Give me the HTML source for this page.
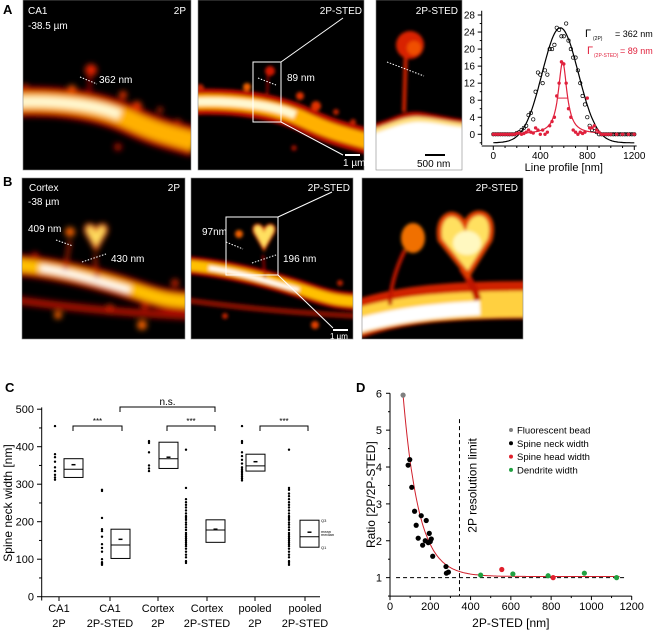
<!DOCTYPE html>
<html><head><meta charset="utf-8"><style>
body{margin:0;background:#fff;}
svg{display:block;font-family:"Liberation Sans",sans-serif;}
</style></head><body>
<svg id="fig" width="656" height="631" viewBox="0 0 656 631" xmlns="http://www.w3.org/2000/svg">
<defs>
<filter id="b1" x="-50%" y="-50%" width="200%" height="200%"><feGaussianBlur stdDeviation="1.5"/></filter>
<filter id="b2" x="-50%" y="-50%" width="200%" height="200%"><feGaussianBlur stdDeviation="3"/></filter>
<filter id="b3" x="-50%" y="-50%" width="200%" height="200%"><feGaussianBlur stdDeviation="5"/></filter>
<clipPath id="cA1"><rect x="23" y="0" width="168" height="170"/></clipPath>
<clipPath id="cA2"><rect x="198" y="0" width="166" height="170"/></clipPath>
<clipPath id="cA3"><rect x="376" y="0" width="86" height="170"/></clipPath>
<clipPath id="cB1"><rect x="22" y="178" width="163" height="161"/></clipPath>
<clipPath id="cB2"><rect x="191" y="178" width="162" height="161"/></clipPath>
<clipPath id="cB3"><rect x="362" y="178" width="161" height="161"/></clipPath>
</defs>
<g font-weight="bold" font-size="13" fill="#000">
<text x="3" y="14">A</text>
<text x="3" y="186">B</text>
<text x="5" y="392">C</text>
<text x="356" y="392">D</text>
</g>

<!-- A1 -->
<g clip-path="url(#cA1)">
<rect x="23" y="0" width="168" height="170" fill="#000"/>
<g filter="url(#b2)">
<path d="M15,102 C60,100 100,106 130,120 S175,136 195,142" stroke="#c01000" stroke-width="30" fill="none"/>
<path d="M15,102 C60,100 100,106 130,120 S175,136 195,142" stroke="#ffb000" stroke-width="18" fill="none"/>
<path d="M15,102 C60,100 100,106 120,115" stroke="#fff8d0" stroke-width="10" fill="none"/>
<circle cx="91" cy="70" r="6" fill="#e02000"/><path d="M90,75 L89,98" stroke="#b01000" stroke-width="3"/>
<circle cx="72" cy="89" r="4" fill="#f05000"/><circle cx="123" cy="95" r="4" fill="#e03000"/><circle cx="137" cy="106" r="5" fill="#e03000"/>
<circle cx="160" cy="110" r="3" fill="#c02000"/><circle cx="178" cy="122" r="3" fill="#c02000"/><circle cx="118" cy="147" r="4" fill="#a01000"/><circle cx="25" cy="88" r="4" fill="#c02000"/>
</g></g>
<rect x="23" y="0" width="168" height="170" fill="none" stroke="#888" stroke-width="0.6"/>
<g fill="#fff" font-size="10"><text x="28" y="14">CA1</text><text x="28" y="29">-38.5 µm</text><text x="186" y="14" text-anchor="end">2P</text><text x="99" y="83">362 nm</text></g>
<line x1="80" y1="77" x2="97" y2="84" stroke="#fff" stroke-dasharray="1.5,1.5"/>

<!-- A2 -->
<g clip-path="url(#cA2)">
<rect x="198" y="0" width="166" height="170" fill="#000"/>
<g filter="url(#b1)">
<path d="M190,102 C235,100 275,106 305,120 S350,136 370,142" stroke="#c01000" stroke-width="26" fill="none"/>
<path d="M190,102 C235,100 275,106 305,120 S350,136 370,142" stroke="#ffb000" stroke-width="15" fill="none"/>
<path d="M190,102 C235,100 275,106 295,115" stroke="#fff8d0" stroke-width="8" fill="none"/>
<circle cx="270" cy="71" r="5" fill="#d01800"/><path d="M268,75 L267,98" stroke="#a01000" stroke-width="2"/>
<circle cx="247" cy="87" r="4" fill="#f06000"/><circle cx="300" cy="96" r="4" fill="#e03000"/><circle cx="316" cy="106" r="5" fill="#e03000"/>
<circle cx="336" cy="112" r="3" fill="#c02000"/><circle cx="353" cy="122" r="3" fill="#c02000"/><circle cx="294" cy="148" r="3" fill="#901000"/><circle cx="200" cy="88" r="4" fill="#c02000"/>
</g></g>
<rect x="198" y="0" width="166" height="170" fill="none" stroke="#888" stroke-width="0.6"/>
<g stroke="#fff" fill="none"><rect x="253" y="62" width="28" height="60"/><line x1="281" y1="62" x2="343" y2="18"/><line x1="281" y1="122" x2="343" y2="155"/><line x1="258" y1="78" x2="276" y2="85" stroke-dasharray="1.5,1.5"/><line x1="345" y1="155" x2="360" y2="155" stroke-width="2"/></g>
<g fill="#fff" font-size="10"><text x="362" y="14" text-anchor="end">2P-STED</text><text x="287" y="81">89 nm</text><text x="343" y="166">1 µm</text></g>

<!-- A3 -->
<g clip-path="url(#cA3)">
<rect x="376" y="0" width="86" height="170" fill="#000"/>
<g filter="url(#b1)">
<path d="M370,125 C395,118 405,110 420,112 S450,118 470,120 L470,180 L370,180 Z" fill="#c01000"/>
<path d="M370,130 C395,122 405,116 420,117 S450,122 470,124 L470,180 L370,180 Z" fill="#ffe080"/>
<path d="M370,135 C395,127 405,122 420,122 S450,127 470,128 L470,180 L370,180 Z" fill="#fff"/>
<path d="M406,48 L404,112" stroke="#d02000" stroke-width="4"/>
<circle cx="410" cy="45" r="14" fill="#d82400"/><circle cx="414" cy="48" r="7" fill="#f05000"/>
</g></g>
<rect x="376" y="0" width="86" height="170" fill="none" stroke="#888" stroke-width="0.6"/>
<g stroke="#fff"><line x1="387" y1="62" x2="424" y2="76" stroke-dasharray="1.5,1.5"/><line x1="425" y1="155" x2="445" y2="155" stroke="#000" stroke-width="2"/></g>
<g font-size="10"><text x="458" y="14" text-anchor="end" fill="#fff">2P-STED</text><text x="417" y="167" fill="#000">500 nm</text></g>

<!-- B1 -->
<g clip-path="url(#cB1)">
<rect x="22" y="178" width="163" height="161" fill="#000"/>
<g filter="url(#b2)">
<path d="M15,265 C60,268 110,282 140,292 S175,300 190,302" stroke="#c01000" stroke-width="22" fill="none"/>
<path d="M15,265 C60,268 110,282 140,292 S175,300 190,302" stroke="#ffc000" stroke-width="12" fill="none"/>
<path d="M40,268 C70,272 100,282 130,290" stroke="#fff" stroke-width="6" fill="none"/>
<path d="M15,300 C60,306 110,312 190,316" stroke="#a01000" stroke-width="8" fill="none"/>
<path d="M95,255 L97,278" stroke="#c02000" stroke-width="3"/><path d="M70,240 L65,270" stroke="#c02000" stroke-width="3"/>
<path d="M88,236 C80,225 92,220 96,230 C100,220 112,225 104,236 L96,250 Z" fill="#ffe060" stroke="#e04000" stroke-width="3"/>
<circle cx="70" cy="232" r="5" fill="#f06000"/><circle cx="35" cy="256" r="4" fill="#b01000"/>
<circle cx="58" cy="315" r="4" fill="#f06000"/><circle cx="142" cy="325" r="5" fill="#f06000"/><circle cx="175" cy="283" r="4" fill="#c02000"/><circle cx="110" cy="308" r="4" fill="#c02000"/><circle cx="145" cy="305" r="4" fill="#c02000"/>
</g></g>
<rect x="22" y="178" width="163" height="161" fill="none" stroke="#888" stroke-width="0.6"/>
<g fill="#fff" font-size="10"><text x="29" y="191">Cortex</text><text x="28" y="205">-38 µm</text><text x="180" y="191" text-anchor="end">2P</text><text x="28" y="232">409 nm</text><text x="111" y="262">430 nm</text></g>
<g stroke="#fff" stroke-dasharray="1.5,1.5"><line x1="56" y1="240" x2="73" y2="246"/><line x1="82" y1="262" x2="106" y2="254"/></g>

<!-- B2 -->
<g clip-path="url(#cB2)">
<rect x="191" y="178" width="162" height="161" fill="#000"/>
<g filter="url(#b1)">
<path d="M184,265 C229,268 279,282 309,292 S344,300 359,302" stroke="#c01000" stroke-width="18" fill="none"/>
<path d="M184,265 C229,268 279,282 309,292 S344,300 359,302" stroke="#ffc000" stroke-width="10" fill="none"/>
<path d="M209,268 C239,272 269,282 299,290" stroke="#fff" stroke-width="4" fill="none"/>
<path d="M184,300 C229,306 279,312 359,316" stroke="#801000" stroke-width="6" fill="none"/>
<path d="M263,255 L265,278" stroke="#b01000" stroke-width="2"/>
<path d="M256,236 C248,225 260,220 264,230 C268,220 280,225 272,236 L264,250 Z" fill="#ffe060" stroke="#e04000" stroke-width="2"/>
<circle cx="239" cy="234" r="4" fill="#f06000"/><circle cx="315" cy="325" r="4" fill="#e04000"/><circle cx="340" cy="283" r="3" fill="#c02000"/><circle cx="225" cy="316" r="3" fill="#c02000"/>
</g></g>
<rect x="191" y="178" width="162" height="161" fill="none" stroke="#888" stroke-width="0.6"/>
<g stroke="#fff" fill="none"><rect x="226" y="217" width="52" height="58"/><line x1="278" y1="217" x2="332" y2="192"/><line x1="278" y1="275" x2="333" y2="328"/><line x1="226" y1="242" x2="243" y2="249" stroke-dasharray="1.5,1.5"/><line x1="252" y1="263" x2="276" y2="255" stroke-dasharray="1.5,1.5"/><line x1="333" y1="330" x2="348" y2="330" stroke-width="2"/></g>
<g fill="#fff" font-size="10"><text x="350" y="191" text-anchor="end">2P-STED</text><text x="202" y="235">97nm</text><text x="283" y="262">196 nm</text><text x="330" y="339" font-size="8">1 µm</text></g>

<!-- B3 -->
<g clip-path="url(#cB3)">
<rect x="362" y="178" width="161" height="161" fill="#000"/>
<g filter="url(#b1)">
<path d="M355,320 C400,304 450,300 530,300" stroke="#d02000" stroke-width="38" fill="none"/>
<path d="M355,322 C400,308 450,304 530,304" stroke="#ffd040" stroke-width="26" fill="none"/>
<path d="M355,326 C400,314 440,310 480,308" stroke="#fff" stroke-width="14" fill="none"/>
<path d="M405,250 C395,270 390,290 390,305" stroke="#c01800" stroke-width="4" fill="none"/>
<path d="M462,268 C470,280 475,290 478,300" stroke="#c01800" stroke-width="7" fill="none"/>
<ellipse cx="413" cy="238" rx="12" ry="15" fill="#f07000"/>
<path d="M440,240 C435,215 455,205 465,225 C472,205 498,210 490,240 L468,275 Z" fill="#ffe060" stroke="#e04000" stroke-width="5"/>
<ellipse cx="467" cy="243" rx="14" ry="12" fill="#fff8c0"/>
</g></g>
<rect x="362" y="178" width="161" height="161" fill="none" stroke="#888" stroke-width="0.6"/>
<line x1="487" y1="328" x2="507" y2="328" stroke="#000" stroke-width="2"/>
<g font-size="9"><text x="518" y="191" text-anchor="end" fill="#fff" font-size="10">2P-STED</text><text x="483" y="337" fill="#000">500 nm</text></g>

<g id="chartA"></g>
<g id="chartC"></g>
<g id="chartD"></g>
</svg>
<script>
// ---------- Chart A data ----------
const aBlackX=[0,20,40,60,80,100,120,140,160,180,200,220,240,260,280,300,320,340,360,380,400,420,440,460,480,500,520,540,560,580,600,620,640,660,680,700,720,740,760,780,800,820,840,860,880,900,920,940,960,980,1000,1020,1040,1060,1080,1100,1120,1140,1160,1180,1200];
const aBlackY=[0,0,0,0,0,0,0,0,0,0,0.3,0.5,1,1.5,2,4.5,5,3.5,10,14.5,14,12,15,14,20,20,21,25,24.5,23,23,26,22,20,18,18,15,12,9,7,4,2,1,1.5,0.5,0,0,0,0,0,0,0,0,0,0,0,0,0,0,0,0];
const aRedX=[0,20,40,60,80,100,120,140,160,180,200,220,240,260,280,300,320,340,360,380,400,420,440,460,480,500,520,540,560,580,600,620,640,660,680,700,720,740,760,780,800,820,840,860,880,900,920,940,960,980,1000,1050,1100,1150,1200];
const aRedY=[0,0,0,0,0,0,0,0,0,0,0.2,0.3,0,0.2,0.5,1,0.5,0.3,1.5,1,0,1,0,0.5,2,3,4,9,12,17,16.5,12,6,4,1,0.5,0,0.5,0.2,0.5,8.5,1.5,1.5,2,1,0.5,0,0,0,0,0,0,0,0,0];
const aXTicks=[0,400,800,1200];
const aYTicks=[0,4,8,12,16,20,24,28];
const aFit2P=[570,27,154,-2];
const aFitSTED=[590,17,44];

// ---------- Chart C data ----------
const cCats=["CA1|2P","CA1|2P-STED","Cortex|2P","Cortex|2P-STED","pooled|2P","pooled|2P-STED"];
const cDense=[290,260,252,245,238,230,222,215,210,205,198,192,185,178,170,165,160,155,150,145,140,135,128,120,112,105,95,90];
const cDots=[
 [455,380,372,360,345,335,325,318,312],
 [285,282,210,180,175,160,140,130,120,100,92,88,85],
 [415,410,385,350,342,335],
 [392].concat(cDense),
 [455,415,410,385,375,365,355,345,340,335,330,325,320,315,310],
 [392,285,275,268].concat(cDense,[85])
];
const cQ1=[318,102,342,145,335,132];
const cMedian=[340,138,368,178,349,160];
const cQ3=[368,180,412,205,380,204];
const cMean=[352,153,372,180,360,172];
const cYTicks=[0,100,200,300,400,500];

// ---------- Chart D data ----------
const dBead=[[65,5.95]];
const dNeck=[[90,4.05],[98,4.2],[108,3.45],[122,2.8],[130,2.42],[140,2.07],[155,2.68],[162,1.88],[175,2.0],[180,2.55],[190,1.95],[195,2.2],[200,1.98],[205,2.05],[212,1.58],[278,1.3],[280,1.12],[290,1.15]];
const dHead=[[555,1.22],[810,1.0]];
const dDendrite=[[450,1.07],[610,1.1],[785,1.05],[965,1.12],[1125,1.0]];
const dXTicks=[0,200,400,600,800,1000,1200];
const dYTicks=[1,2,3,4,5,6];
const dFit=[1.03,11.3,78];
const dLimit=345;

const NS="http://www.w3.org/2000/svg";
function mk(parent,tag,attrs,text){const e=document.createElementNS(NS,tag);for(const k in attrs)e.setAttribute(k,attrs[k]);if(text!==undefined)e.textContent=text;parent.appendChild(e);return e;}

// ===== Chart A =====
(function(){
const g=document.getElementById('chartA');
const X=v=>493.3+v*(141/1200), Y=v=>134.3-v*(119.3/28);
let ax=mk(g,'line',{x1:481.7,y1:Y(-2.5),x2:481.7,y2:Y(29),stroke:'#000','stroke-width':1});

ax=mk(g,'line',{x1:481.7,y1:146,x2:X(1220),y2:146,stroke:'#000','stroke-width':1});

for(let v=-2;v<=28;v+=2){mk(g,'line',{x1:481.7,x2:v%4===0?477.7:479.7,y1:Y(v),y2:Y(v),stroke:'#000'});}
aYTicks.forEach(v=>{const t=mk(g,'text',{x:475,y:Y(v)+3.5,'font-size':10,'text-anchor':'end'},v);
});
for(let v=0;v<=1200;v+=100){mk(g,'line',{x1:X(v),x2:X(v),y1:146,y2:v%400===0?150:148,stroke:'#000'});}
aXTicks.forEach(v=>{const t=mk(g,'text',{x:X(v),y:159,'font-size':10,'text-anchor':'middle'},v);
});
let t=mk(g,'text',{x:X(600),y:171,'font-size':11,'text-anchor':'middle'},'Line profile [nm]');

t=mk(g,'text',{transform:'translate(459,78) rotate(-90)','font-size':11,'text-anchor':'middle'},'Counts / 30µs');

let d='';for(let v=0;v<=1200;v+=10){const y=aFit2P[3]+aFit2P[1]*Math.exp(-Math.pow(v-aFit2P[0],2)/(2*aFit2P[2]*aFit2P[2]));d+=(v?'L':'M')+X(v).toFixed(1)+','+Y(y).toFixed(1);}
let p=mk(g,'path',{d:d,fill:'none',stroke:'#000','stroke-width':1.2});

d='';for(let v=0;v<=1200;v+=5){const u=(v-aFitSTED[0])/aFitSTED[2];const y=aFitSTED[1]/(1+u*u);d+=(v?'L':'M')+X(v).toFixed(1)+','+Y(y).toFixed(1);}
p=mk(g,'path',{d:d,fill:'none',stroke:'#e0203c','stroke-width':1.2});

mk(g,'line',{x1:X(aFitSTED[0]-aFitSTED[2]),x2:X(aFitSTED[0]+aFitSTED[2]),y1:Y(aFitSTED[1]/2),y2:Y(aFitSTED[1]/2),stroke:'#e0203c'});
aBlackX.forEach((x,i)=>{const c=mk(g,'circle',{cx:X(x),cy:Y(aBlackY[i]),r:1.7,fill:'none',stroke:'#000','stroke-width':0.7});
});
aRedX.forEach((x,i)=>{const c=mk(g,'circle',{cx:X(x),cy:Y(aRedY[i]),r:1.7,fill:'#e0203c'});
});
t=mk(g,'text',{x:585,y:37,'font-size':11},'Γ');
mk(g,'text',{x:593,y:40,'font-size':5},'(2P)');mk(g,'text',{x:615,y:37,'font-size':9},'= 362 nm');
t=mk(g,'text',{x:587,y:54,'font-size':11,fill:'#e0203c'},'Γ');
mk(g,'text',{x:594,y:57,'font-size':5,fill:'#e0203c'},'(2P-STED)');mk(g,'text',{x:620,y:54,'font-size':9,fill:'#e0203c'},'= 89 nm');
})();

// ===== Chart C =====
(function(){
const g=document.getElementById('chartC');
const Y=v=>596.7-v*0.375;
const tickX=[59,110,158,207,255,305];
const dotX=[55,102,149,186,242,289];
const boxX=[64,111,159,206,246,300];
const bw=19;
let a=mk(g,'line',{x1:41.7,y1:Y(-10),x2:41.7,y2:Y(505),stroke:'#000','stroke-width':1});

a=mk(g,'line',{x1:41.7,y1:596.7,x2:320,y2:596.7,stroke:'#000','stroke-width':1});

for(let v=0;v<=500;v+=50)mk(g,'line',{x1:41.7,x2:v%100===0?37:39,y1:Y(v),y2:Y(v),stroke:'#000'});
cYTicks.forEach(v=>{const t=mk(g,'text',{x:34,y:Y(v)+4,'font-size':11,'text-anchor':'end'},v);
});
let t=mk(g,'text',{transform:'translate(12,503) rotate(-90)','font-size':12,'text-anchor':'middle'},'Spine neck width [nm]');

cCats.forEach((c,i)=>{
 mk(g,'line',{x1:tickX[i],x2:tickX[i],y1:596.7,y2:601,stroke:'#000'});
 const parts=c.split('|');
 const l=mk(g,'text',{x:tickX[i],y:612,'font-size':11,'text-anchor':'middle'});
 
 mk(l,'tspan',{x:tickX[i],dy:0},parts[0]);mk(l,'tspan',{x:tickX[i],dy:15},parts[1]);
 cDots[i].forEach(v=>{const d=mk(g,'circle',{cx:dotX[i],cy:Y(v),r:1.2,fill:'#000'});
  });
 const b=mk(g,'rect',{x:boxX[i],y:Y(cQ3[i]),width:bw,height:Y(cQ1[i])-Y(cQ3[i]),fill:'none',stroke:'#000','stroke-width':1});
 
 mk(g,'line',{x1:boxX[i],x2:boxX[i]+bw,y1:Y(cMedian[i]),y2:Y(cMedian[i]),stroke:'#000'});
 const m=mk(g,'line',{x1:boxX[i]+bw/2-2,x2:boxX[i]+bw/2+2,y1:Y(cMean[i]),y2:Y(cMean[i]),stroke:'#000','stroke-width':1.5});
 
});
function br(x1,x2,y,lab,name){const p=mk(g,'path',{d:`M${x1},${y+5}V${y}H${x2}V${y+5}`,fill:'none',stroke:'#000'});
 
 mk(g,'text',{x:(x1+x2)/2,y:y-2,'font-size':lab==='n.s.'?10:8,'text-anchor':'middle'},lab);}
br(73,122,426,'***','sig-bracket-ca1');br(167,215,426,'***','sig-bracket-cortex');br(260,308,426,'***','sig-bracket-pooled');br(120,215,407,'n.s.','ns-bracket');
[['Q3',cQ3[5]],['mean',cMean[5]+3],['median',cMedian[5]+7],['Q1',cQ1[5]]].forEach(q=>mk(g,'text',{x:321,y:Y(q[1])+2,'font-size':4},q[0]));
})();

// ===== Chart D =====
(function(){
const g=document.getElementById('chartD');
const X=v=>390+v*(241.7/1200), Y=v=>614.5-v*36.87;
let a=mk(g,'line',{x1:390,y1:Y(0.5),x2:390,y2:Y(6),stroke:'#000'});

a=mk(g,'line',{x1:390,y1:Y(0.5),x2:X(1200),y2:Y(0.5),stroke:'#000'});

for(let v=0.5;v<=6;v+=0.5)mk(g,'line',{x1:390,x2:v%1===0?386:388,y1:Y(v),y2:Y(v),stroke:'#000'});
dYTicks.forEach(v=>{const t=mk(g,'text',{x:382,y:Y(v)+4,'font-size':11,'text-anchor':'end'},v);
});
for(let v=0;v<=1200;v+=100)mk(g,'line',{x1:X(v),x2:X(v),y1:Y(0.5),y2:Y(0.5)+(v%200===0?4:2),stroke:'#000'});
dXTicks.forEach(v=>{const t=mk(g,'text',{x:X(v),y:610,'font-size':11,'text-anchor':'middle'},v);
});
let t=mk(g,'text',{x:X(600),y:627,'font-size':12,'text-anchor':'middle'},'2P-STED [nm]');

t=mk(g,'text',{transform:`translate(375,${Y(3.25)}) rotate(-90)`,'font-size':12,'text-anchor':'middle'},'Ratio [2P/2P-STED]');

let l=mk(g,'line',{x1:X(30),x2:X(1175),y1:Y(1),y2:Y(1),stroke:'#000','stroke-dasharray':'4,3'});

l=mk(g,'line',{x1:X(dLimit),x2:X(dLimit),y1:Y(5.3),y2:Y(0.5),stroke:'#000','stroke-dasharray':'4,3'});

t=mk(g,'text',{transform:`translate(${X(dLimit)+17},${Y(3.5)}) rotate(-90)`,'font-size':12,'text-anchor':'middle'},'2P resolution limit');

let d='';for(let v=65;v<=1140;v+=5){const y=dFit[0]+dFit[1]*Math.exp(-v/dFit[2]);d+=(v===65?'M':'L')+X(v).toFixed(1)+','+Y(y).toFixed(1);}
const p=mk(g,'path',{d:d,fill:'none',stroke:'#d0202c','stroke-width':1});

const series=[[dBead,'#808080','bead-point'],[dNeck,'#000','neck-point'],[dHead,'#e0202c','head-point'],[dDendrite,'#20a040','dendrite-point']];
series.forEach(s=>s[0].forEach(pt=>{const c=mk(g,'circle',{cx:X(pt[0]),cy:Y(pt[1]),r:2.6,fill:s[1]});
 }));
const leg=[['Fluorescent bead','#808080'],['Spine neck width','#000'],['Spine head width','#e0202c'],['Dendrite width','#20a040']];
leg.forEach((e,i)=>{const y=430+i*13.3;
 const c=mk(g,'circle',{cx:511,cy:y,r:2,fill:e[1]});
 const tt=mk(g,'text',{x:517,y:y+3.5,'font-size':9.5},e[0]);});
})();
</script>
</body></html>
